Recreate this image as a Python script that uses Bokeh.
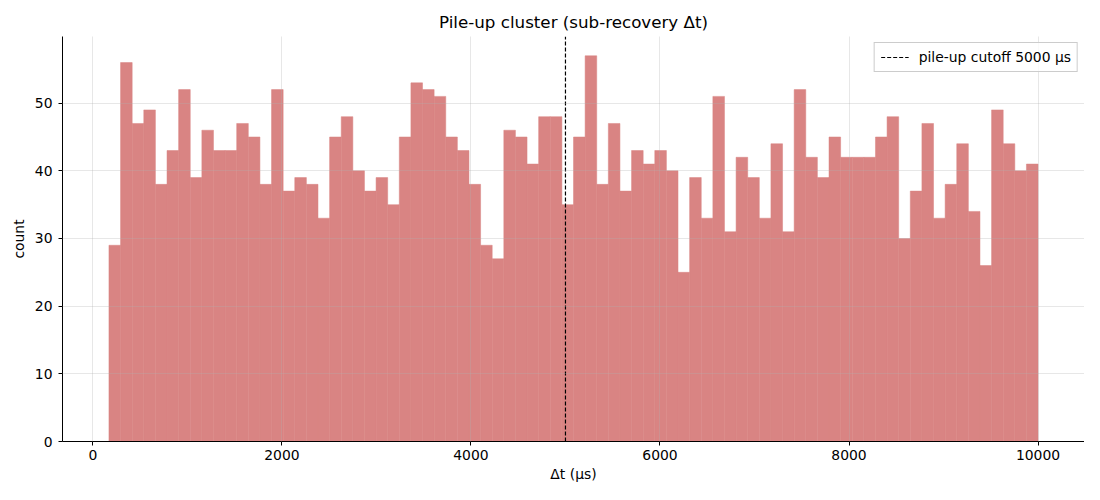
import numpy as np
from bokeh.plotting import figure
from bokeh.models import Range1d, FixedTicker, Legend, LegendItem
from bokeh.embed import file_html
from bokeh.resources import INLINE

# ---- data ----
counts = [29, 56, 47, 49, 38, 43, 52, 39, 46, 43,
          43, 47, 45, 38, 52, 37, 39, 38, 33, 45,
          48, 40, 37, 39, 35, 45, 53, 52, 51, 45,
          43, 38, 29, 27, 46, 45, 41, 48, 48, 35,
          45, 57, 38, 47, 37, 43, 41, 43, 40, 25,
          39, 33, 51, 31, 42, 39, 33, 44, 31, 52,
          42, 39, 45, 42, 42, 42, 45, 48, 30, 37,
          47, 33, 38, 44, 34, 26, 49, 44, 40, 41]
edge_min = 170.0
edge_max = 10000.0
cutoff = 5000
x_ticks = [0, 2000, 4000, 6000, 8000, 10000]
y_ticks = [0, 10, 20, 30, 40, 50]
title = "Pile-up cluster (sub-recovery Δt)"
xlabel = "Δt (μs)"
ylabel = "count"
legend_label = "pile-up cutoff 5000 μs"

edges = np.linspace(edge_min, edge_max, len(counts) + 1)
span = edge_max - edge_min
x0, x1 = edge_min - 0.05 * span, edge_max + 0.05 * span
ytop = max(counts) * 1.05

FONT = "DejaVu Sans"
FS = "13.9px"

p = figure(width=1084, height=484, output_backend="svg", toolbar_location=None,
           x_range=Range1d(x0, x1), y_range=Range1d(0, ytop),
           min_border_left=62, min_border_right=0, min_border_top=36, min_border_bottom=43)

p.title.text = title
p.title.align = "center"
p.title.text_font = FONT
p.title.text_font_size = "16.7px"
p.title.text_font_style = "normal"
p.title.text_color = "#000000"

p.quad(left=edges[:-1], right=edges[1:], bottom=0, top=counts,
       fill_color="#d98483", fill_alpha=1.0,
       line_color="#d98483", line_width=0.5)

vline = p.line(x=[cutoff, cutoff], y=[0, ytop], line_color="black",
               line_dash="4 2", line_width=1.2)

legend = Legend(items=[LegendItem(label=legend_label, renderers=[vline])],
                location="top_right", label_text_font=FONT, label_text_font_size=FS,
                label_text_color="#000000",
                border_line_color="#cccccc", border_line_alpha=1.0, background_fill_alpha=0.8,
                padding=6, spacing=0, margin=6, glyph_width=28, label_standoff=10,
                label_height=16, glyph_height=16)
p.add_layout(legend)

for ax in (p.xaxis, p.yaxis):
    ax.axis_line_color = "black"
    ax.major_tick_line_color = "black"
    ax.major_tick_out = 4
    ax.major_tick_in = 0
    ax.minor_tick_line_color = None
    ax.major_label_text_font = FONT
    ax.major_label_text_font_size = FS
    ax.major_label_text_color = "#000000"
    ax.axis_label_text_font = FONT
    ax.axis_label_text_font_size = FS
    ax.axis_label_text_font_style = "normal"
    ax.axis_label_text_color = "#000000"

p.xaxis.ticker = FixedTicker(ticks=x_ticks)
p.yaxis.ticker = FixedTicker(ticks=y_ticks)
p.xaxis.axis_label = xlabel
p.yaxis.axis_label = ylabel
p.xaxis.major_label_standoff = 4
p.yaxis.major_label_standoff = 6
p.xaxis.axis_label_standoff = 3
p.yaxis.axis_label_standoff = 5

p.xgrid.ticker = FixedTicker(ticks=x_ticks)
p.ygrid.ticker = FixedTicker(ticks=y_ticks)
p.grid.grid_line_color = "#b0b0b0"
p.grid.grid_line_alpha = 0.3
p.grid.grid_line_width = 1
p.grid.level = "guide"
p.outline_line_color = None

open("out.html", "w").write(file_html(p, INLINE))
